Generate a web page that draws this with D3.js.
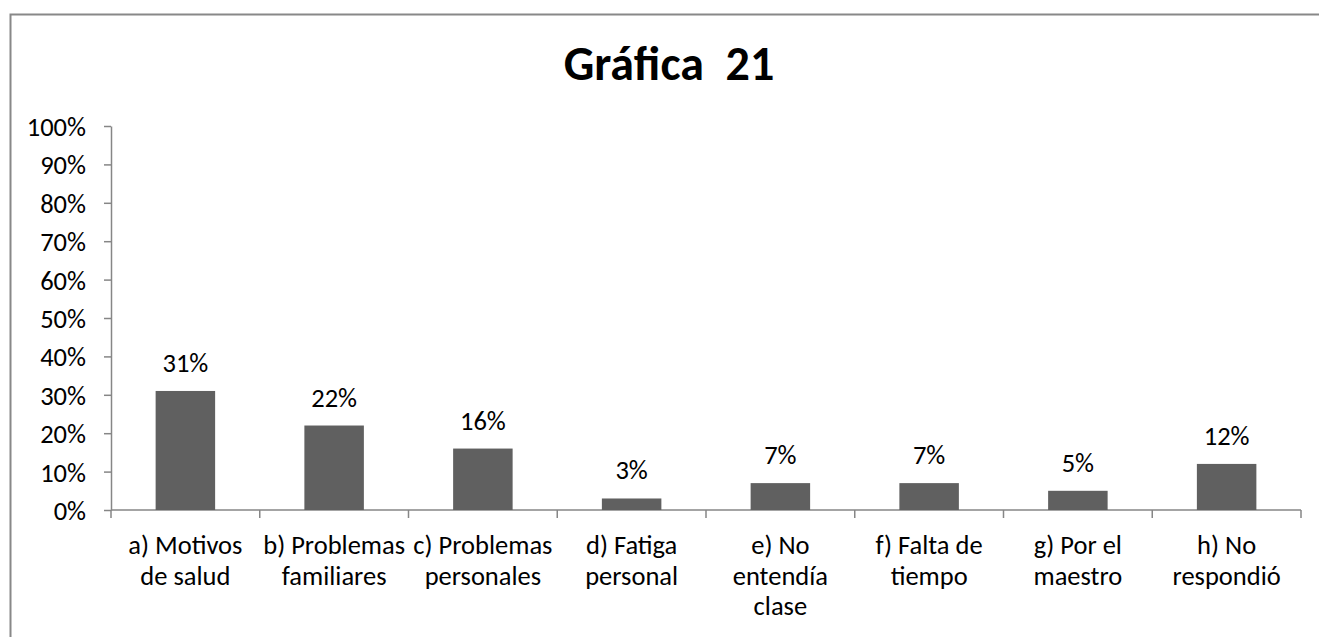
<!DOCTYPE html>
<html>
<head>
<meta charset="utf-8">
<script src="https://d3js.org/d3.v7.min.js"></script>
<style>
  body { margin: 0; background: #fff; }
  svg { display: block; font-family: Carlito, Calibri, Lato, sans-serif; }
  .axis path, .axis line { stroke: #868686; stroke-width: 1.5px; }
  .axis text { fill: #000; font-size: 26.5px; font-family: Carlito, Calibri, Lato, sans-serif; }
</style>
</head>
<body>
<svg id="chart"></svg>
<script>
// chart data
var title = "Gráfica\u00a0\u00a021";
var categories = [
  ["a) Motivos", "de salud"],
  ["b) Problemas", "familiares"],
  ["c) Problemas", "personales"],
  ["d) Fatiga", "personal"],
  ["e) No", "entendía", "clase"],
  ["f) Falta de", "tiempo"],
  ["g) Por el", "maestro"],
  ["h) No", "respondió"]
];
var values = [31, 22, 16, 3, 7, 7, 5, 12];
var yTicks = [0, 10, 20, 30, 40, 50, 60, 70, 80, 90, 100];

var W = 1319, H = 637;
var margin = {top: 126, left: 111, right: 18, bottom: 127};
var width = W - margin.left - margin.right,
    height = H - margin.top - margin.bottom;

var svg = d3.select("#chart").attr("width", W).attr("height", H);

// outer frame of the chart
svg.append("rect")
  .attr("x", 10.5).attr("y", 14.5)
  .attr("width", 1318).attr("height", 700)
  .attr("fill", "none")
  .attr("stroke", "#888")
  .attr("stroke-width", 2);

svg.append("text")
  .attr("x", 669).attr("y", 80)
  .attr("text-anchor", "middle")
  .attr("font-size", "48px")
  .attr("font-weight", "bold")
  .text(title);

var g = svg.append("g")
  .attr("transform", "translate(" + margin.left + "," + margin.top + ")");

var idx = categories.map((d, i) => i);
var x = d3.scaleBand().domain(idx).range([0, width]).paddingInner(0.6).paddingOuter(0.3);
var xTick = d3.scaleLinear().domain([0, categories.length]).range([0, width]);
var y = d3.scaleLinear().domain([0, 100]).range([height, 0]);

// y axis
var ya = g.append("g").attr("class", "axis")
  .call(d3.axisLeft(y).tickValues(yTicks).tickFormat(d => d + "%").tickSize(7).tickPadding(18).tickSizeOuter(0));
ya.selectAll("text").attr("dy", "0.36em");

// x axis
var xa = g.append("g").attr("class", "axis")
  .attr("transform", "translate(0," + height + ")");
xa.append("line").attr("x1", 0).attr("x2", width).attr("y1", 0).attr("y2", 0);
xa.selectAll(".tk").data(d3.range(categories.length + 1)).enter().append("line")
  .attr("x1", d => xTick(d)).attr("x2", d => xTick(d))
  .attr("y1", 0).attr("y2", 8);

var lbl = xa.selectAll(".lbl").data(categories).enter().append("text")
  .attr("text-anchor", "middle")
  .attr("transform", (d, i) => "translate(" + (xTick(i) + xTick(1) / 2) + ",44)");
lbl.selectAll("tspan").data(d => d).enter().append("tspan")
  .attr("x", 0)
  .attr("dy", (d, i) => i === 0 ? 0 : 30.5)
  .text(d => d);

// bars
g.selectAll(".bar").data(values).enter().append("rect")
  .attr("x", (d, i) => x(i))
  .attr("y", d => y(d))
  .attr("width", x.bandwidth())
  .attr("height", d => height - y(d))
  .attr("fill", "#606060");

g.selectAll(".val").data(values).enter().append("text")
  .attr("x", (d, i) => x(i) + x.bandwidth() / 2)
  .attr("y", d => y(d) - 19)
  .attr("text-anchor", "middle")
  .attr("font-size", "26.5px")
  .text(d => d + "%");
</script>
</body>
</html>
